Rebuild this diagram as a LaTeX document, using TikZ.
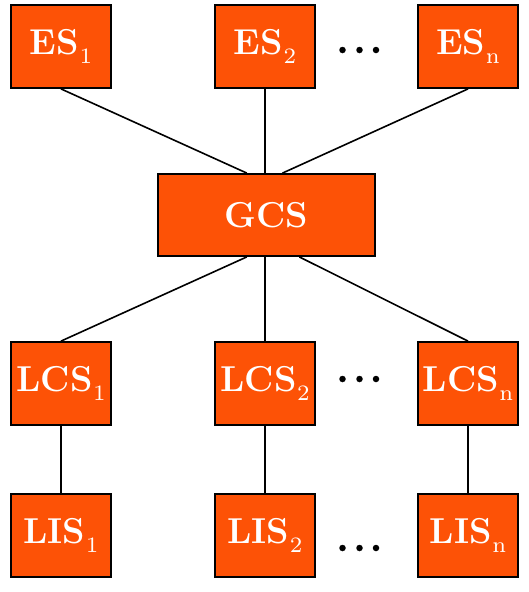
\documentclass[tikz,border=0pt]{standalone}
\usetikzlibrary{calc}
\definecolor{boxfill}{RGB}{253,82,6}
\font\subfnt=cmr7 at 22pt
\newcommand{\sbs}[1]{\kern0.5pt\raisebox{-0.27em}{\subfnt #1}}
\begin{document}
\begin{tikzpicture}[x=1pt,y=-1pt,
  box/.style={draw=black,line width=1.8pt,fill=boxfill,text=white,minimum width=100pt,minimum height=83pt,inner sep=0pt,font=\fontsize{36}{40}\selectfont\bfseries},
  wide/.style={box,minimum width=217pt,minimum height=82pt},
  link/.style={line width=1.6pt,black},
  dotc/.style={circle,fill=black,inner sep=0pt,minimum size=6.5pt}]
\useasboundingbox (0,0) rectangle (528,592);
% top row
\node[box] (es1) at (61,46.5) {ES\sbs{1}};
\node[box] (es2) at (265,46.5) {ES\sbs{2}};
\node[box] (esn) at (468,46.5) {ES\sbs{n}};
% GCS
\node[wide] (gcs) at (266.5,215) {GCS};
% LCS row
\node[box] (lcs1) at (61,383.5) {LCS\sbs{1}};
\node[box] (lcs2) at (265,383.5) {LCS\sbs{2}};
\node[box] (lcsn) at (468,383.5) {LCS\sbs{n}};
% LIS row
\node[box] (lis1) at (61,535.5) {LIS\sbs{1}};
\node[box] (lis2) at (265,535.5) {LIS\sbs{2}};
\node[box] (lisn) at (468,535.5) {LIS\sbs{n}};
% dots
\foreach \r/\yy in {a/50,b/379,c/548}{
  \node[dotc] (\r1) at (342.5,\yy) {};
  \node[dotc] (\r2) at (359.5,\yy) {};
  \node[dotc] (\r3) at (376,\yy) {};
}
% attachment points on GCS
\coordinate (gt1) at ($(gcs.north west)!0.41!(gcs.north east)$);
\coordinate (gt3) at ($(gcs.north west)!0.573!(gcs.north east)$);
\coordinate (gb1) at ($(gcs.south west)!0.41!(gcs.south east)$);
\coordinate (gb3) at ($(gcs.south west)!0.65!(gcs.south east)$);
% connectors
\draw[link] (es1.south) -- (gt1);
\draw[link] (es2.south) -- (es2.south |- gcs.north);
\draw[link] (esn.south) -- (gt3);
\draw[link] (gb1) -- (lcs1.north);
\draw[link] (lcs2.north |- gcs.south) -- (lcs2.north);
\draw[link] (gb3) -- (lcsn.north);
\draw[link] (lcs1.south) -- (lis1.north);
\draw[link] (lcs2.south) -- (lis2.north);
\draw[link] (lcsn.south) -- (lisn.north);
\end{tikzpicture}
\end{document}
